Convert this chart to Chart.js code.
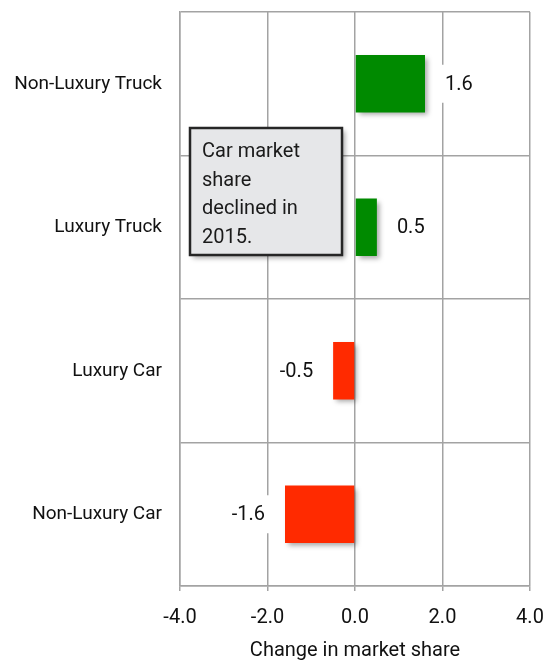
<!DOCTYPE html>
<html>
<head>
<meta charset="utf-8">
<script src="https://cdn.jsdelivr.net/npm/chart.js@4/dist/chart.umd.min.js"></script>
<style>
    html, body { margin: 0; padding: 0; background: #ffffff; }
    #chart_area { width: 559px; height: 663px; position: relative; }
</style>
</head>
<body>
<div id="chart_area"><canvas id="market_share"></canvas></div>
<script>
// Chart data
const categories = ["Non-Luxury Truck", "Luxury Truck", "Luxury Car", "Non-Luxury Car"];
const shareChange = [1.6, 0.5, -0.5, -1.6];
const xTicks = [-4.0, -2.0, 0.0, 2.0, 4.0];
const axisTitle = "Change in market share";
const noteLines = ["Car market", "share", "declined in", "2015."];

const fontFamily = "Roboto, 'Liberation Sans', sans-serif";
const gridColor = "#a3a3a3";
const upColor = "#008a00";
const downColor = "#ff2a00";

// Soft shadow behind the bars, like the original
const barShadow = {
    id: "barShadow",
    beforeDatasetsDraw(chart) {
        const ctx = chart.ctx;
        ctx.save();
        ctx.shadowColor = "rgba(0, 0, 0, 0.35)";
        ctx.shadowBlur = 5;
        ctx.shadowOffsetX = 3;
        ctx.shadowOffsetY = 3;
    },
    afterDatasetsDraw(chart) {
        chart.ctx.restore();
    }
};

// Value labels next to each bar, on a white patch that hides the grid
const valueLabels = {
    id: "valueLabels",
    afterDatasetsDraw(chart) {
        const ctx = chart.ctx;
        const meta = chart.getDatasetMeta(0);
        ctx.save();
        ctx.font = "20px " + fontFamily;
        ctx.textBaseline = "middle";
        meta.data.forEach(function (bar, i) {
            const value = shareChange[i];
            const text = value.toFixed(1);
            const w = ctx.measureText(text).width;
            let left;
            if (value >= 0) {
                left = bar.x + 20;
            } else {
                left = bar.x - 20 - w;
            }
            ctx.fillStyle = "#ffffff";
            ctx.fillRect(left - 7, bar.y - 19, w + 14, 38);
            ctx.fillStyle = "#111111";
            ctx.textAlign = "left";
            ctx.fillText(text, left, bar.y + 1);
        });
        ctx.restore();
    }
};

// Grey note box in the upper left of the plot
const noteBox = {
    id: "noteBox",
    afterDraw(chart) {
        const ctx = chart.ctx;
        const area = chart.chartArea;
        const x = area.left + 10;
        const y = area.top + 116;
        const w = 152;
        const h = 127;
        ctx.save();
        ctx.shadowColor = "rgba(0, 0, 0, 0.35)";
        ctx.shadowBlur = 5;
        ctx.shadowOffsetX = 3;
        ctx.shadowOffsetY = 3;
        ctx.fillStyle = "#e6e7e9";
        ctx.fillRect(x, y, w, h);
        ctx.shadowColor = "transparent";
        ctx.lineWidth = 2.5;
        ctx.strokeStyle = "#262626";
        ctx.strokeRect(x, y, w, h);
        ctx.fillStyle = "#1a1a1a";
        ctx.font = "20px " + fontFamily;
        ctx.textAlign = "left";
        ctx.textBaseline = "alphabetic";
        noteLines.forEach(function (line, i) {
            ctx.fillText(line, x + 12, y + 29 + i * 28.5);
        });
        ctx.restore();
    }
};

new Chart(document.getElementById("market_share"), {
    type: "bar",
    data: {
        labels: categories,
        datasets: [{
            data: shareChange,
            backgroundColor: shareChange.map(v => v >= 0 ? upColor : downColor),
            borderWidth: 0,
            categoryPercentage: 1.0,
            barPercentage: 0.4
        }]
    },
    options: {
        indexAxis: "y",
        responsive: true,
        maintainAspectRatio: false,
        animation: false,
        layout: { padding: { top: 12, right: 29, left: 0, bottom: 0 } },
        plugins: {
            legend: { display: false },
            tooltip: { enabled: false }
        },
        scales: {
            x: {
                min: -4,
                max: 4,
                afterBuildTicks(scale) {
                    scale.ticks = xTicks.map(v => ({ value: v }));
                },
                afterFit(scale) {
                    scale.height = 77;
                },
                ticks: {
                    callback: v => Number(v).toFixed(1),
                    color: "#111111",
                    font: { family: fontFamily, size: 20 },
                    padding: 15,
                    maxRotation: 0
                },
                grid: { color: gridColor, lineWidth: 1.5, tickLength: 5 },
                border: { color: gridColor, width: 1.5 },
                title: {
                    display: true,
                    text: axisTitle,
                    color: "#111111",
                    font: { family: fontFamily, size: 20 },
                    padding: { top: 8, bottom: 0 }
                }
            },
            y: {
                afterFit(scale) {
                    scale.width = 180;
                    scale.paddingTop = 0;
                    scale.paddingBottom = 0;
                },
                ticks: {
                    color: "#111111",
                    font: { family: fontFamily, size: 19 },
                    padding: 18
                },
                grid: { color: gridColor, lineWidth: 1.5, drawTicks: false, offset: true },
                border: { color: gridColor, width: 1.5 }
            }
        }
    },
    plugins: [barShadow, valueLabels, noteBox]
});
</script>
</body>
</html>
